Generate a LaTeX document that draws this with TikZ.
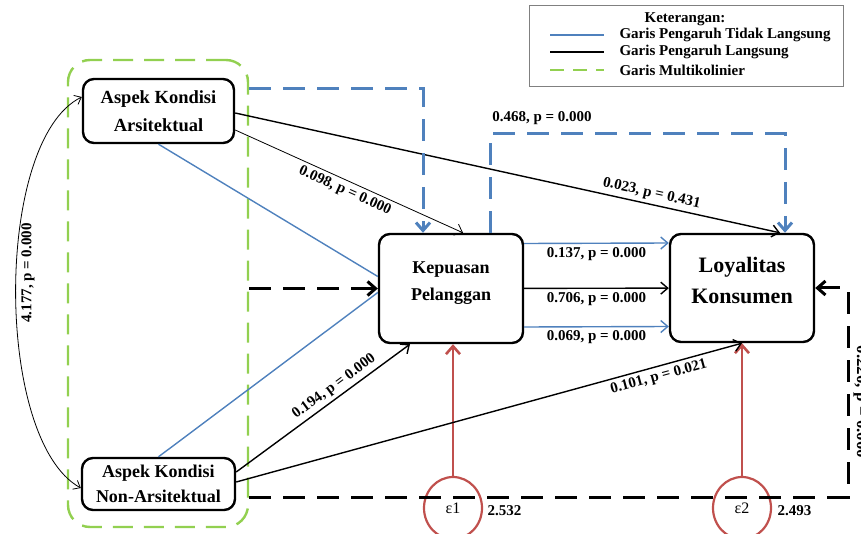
\documentclass[tikz,border=0pt]{standalone}
\usepackage{fontspec}
\setmainfont{Liberation Serif}
\usetikzlibrary{arrows.meta,shapes.geometric}
\definecolor{pathblue}{RGB}{79, 129, 189}
\definecolor{multigreen}{RGB}{146, 208, 80}
\definecolor{errred}{RGB}{192, 80, 77}
\tikzstyle{konstruk} = [
  draw,
  line width=2.4pt,
  rounded corners=11pt,
  align=center,
  font=\bfseries\fontsize{18.5}{28}\selectfont,
]
\tikzstyle{tip} = [-{Straight Barb[length=7pt,width=12pt]}]
\tikzstyle{langsung} = [tip, line width=1.4pt]
\tikzstyle{tidaklangsung} = [pathblue, line width=1.4pt]
\tikzstyle{putus} = [line width=3pt, dash pattern=on 22pt off 12pt]
\tikzstyle{koef} = [font=\bfseries\fontsize{15}{17}\selectfont]
\tikzstyle{galat} = [
  draw=errred,
  ellipse,
  line width=2.2pt,
  minimum width=58pt,
  minimum height=62pt,
  font=\fontsize{16}{18}\selectfont,
]

\begin{document}
\begin{tikzpicture}[x=1pt, y=-1pt]
            \useasboundingbox (0,0) rectangle (861,534);

            % Multikolinier frame
            \node[draw=multigreen, line width=2.4pt, dash pattern=on 20pt off 11pt,
              rounded corners=22pt, minimum width=180pt, minimum height=467pt] (multi) at (158,293.5) {};

            % Constructs
            \node[konstruk, minimum width=151pt, minimum height=64pt] (ars) at (158.5,111) {Aspek Kondisi\\Arsitektual};
            \node[konstruk, minimum width=153pt, minimum height=52pt,
              font=\bfseries\fontsize{18}{25}\selectfont] (nonars) at (158.5,484) {Aspek Kondisi\\Non-Arsitektual};
            \node[konstruk, minimum width=144pt, minimum height=109pt, text depth=14pt,
              font=\bfseries\fontsize{18}{27}\selectfont] (kepuasan) at (451,288.5) {Kepuasan\\Pelanggan};
            \node[konstruk, minimum width=144pt, minimum height=108pt, text depth=16pt,
              font=\bfseries\fontsize{22}{31}\selectfont] (loyal) at (742,288) {Loyalitas\\Konsumen};

            % Error terms
            \node[galat] (e1) at (453,508) {ε1};
            \node[galat] (e2) at (742,508) {ε2};
            \node[koef, anchor=west] (v1) at (484,511) {2.532};
            \node[koef, anchor=west] (v2) at (774,511) {2.493};
            \draw[errred, line width=2.6pt, -{Straight Barb[length=8pt,width=14pt]}] (e1) -- (e1 |- kepuasan.south);
            \draw[errred, line width=2.6pt, -{Straight Barb[length=8pt,width=14pt]}] (e2) -- (e2 |- loyal.south);

            % Direct paths
            \draw[tip, line width=0.8pt] ([yshift=-19pt]ars.east) -- ([xshift=12pt]kepuasan.north)
              node[koef, midway, sloped, below] {0.098, p = 0.000};
            \draw[langsung] ([yshift=-2pt]ars.east) -- ([xshift=38pt]loyal.north)
              node[koef, pos=0.76, sloped, above] {0.023, p = 0.431};
            \draw[langsung] ([yshift=12pt]nonars.east) -- ([xshift=-41pt]kepuasan.south)
              node[koef, pos=0.6, sloped, above] {0.194, p = 0.000};
            \draw[langsung] ([yshift=2pt]nonars.east) -- (loyal.south)
              node[koef, pos=0.83, sloped, below] {0.101, p = 0.021};

            % Kepuasan to Loyalitas
            \draw[tidaklangsung, tip] ([yshift=45pt]kepuasan.east) -- ([yshift=45pt]loyal.west)
              node[koef, midway, below, black] {0.137, p = 0.000};
            \draw[langsung] (kepuasan) -- (loyal)
              node[koef, midway, below] {0.706, p = 0.000};
            \draw[tidaklangsung, tip] ([yshift=-38.5pt]kepuasan.east) -- ([yshift=-38.5pt]loyal.west)
              node[koef, midway, below, black] {0.069, p = 0.000};

            % Indirect paths
            \draw[tidaklangsung] (ars.south) -- ([yshift=12pt]kepuasan.west);
            \draw[tidaklangsung] (nonars.north) -- ([yshift=-4pt]kepuasan.west);
            \draw[putus, pathblue, -{Straight Barb[length=8pt,width=14pt]}] (multi.east |- 0,89) -| ([xshift=-28pt]kepuasan.north);
            \draw[putus, pathblue, -{Straight Barb[length=8pt,width=14pt]}] ([xshift=39pt]kepuasan.north) -- ++(0,-99) -| ([xshift=43pt]loyal.north);
            \node[koef] (indirek) at (542,118) {0.468, p = 0.000};

            % Multikolinier paths
            \draw[putus, -{Straight Barb[length=8pt,width=14pt]}] (multi.east |- kepuasan.west) -- (kepuasan.west);
            \draw[putus, -{Straight Barb[length=8pt,width=14pt]}] (multi.east |- 0,497) -- (848,497) |- (loyal.east);
            \node[koef, rotate=-90, anchor=south, font=\bfseries\fontsize{17}{19}\selectfont] (kov) at (850,402) {0.220, p = 0.000};

            % Correlation
            \draw[line width=0.8pt, {Straight Barb[length=6pt,width=10pt]}-{Straight Barb[length=6pt,width=10pt]}]
              ([yshift=-4pt]nonars.west) .. controls (-6,440) and (-6,140) .. ([yshift=14pt]ars.west);
            \node[koef] [rotate=90] (korelasi) at (28,273) {4.177, p = 0.000};

            % Legend
            \node[draw=gray, line width=1pt, minimum width=314pt, minimum height=81pt] (legenda) at (686,46.5) {};
            \node[koef] (judul) at (685,19) {Keterangan:};
            \draw[pathblue, line width=2pt] (550,35) -- (604,35);
            \draw[line width=2pt] (550,52) -- (604,52);
            \draw[multigreen, line width=2.4pt, dash pattern=on 14pt off 9pt] (550,70) -- (604,70);
            \node[koef, anchor=west] at (616,35) {Garis Pengaruh Tidak Langsung};
            \node[koef, anchor=west] at (616,52) {Garis Pengaruh Langsung};
            \node[koef, anchor=west] at (616,70) {Garis Multikolinier};
          \end{tikzpicture}
\end{document}
